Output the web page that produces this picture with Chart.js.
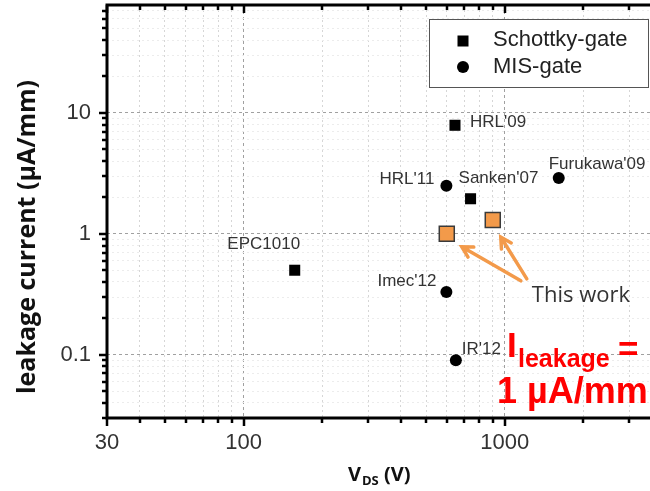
<!DOCTYPE html>
<html>
<head>
<meta charset="utf-8">
<script src="https://cdn.jsdelivr.net/npm/chart.js@4/dist/chart.umd.min.js"></script>
<style>
 html, body { margin: 0; padding: 0; background: #fff; }
 #wrap { width: 650px; height: 491px; }
</style>
</head>
<body>
<div id="wrap"><canvas id="myChart" width="650" height="491"></canvas></div>
<script>
'use strict';

// schottky-gate devices
var schottkyNames = ['EPC1010', "HRL'09", "Sanken'07"];
var schottkyVds = [157, 645, 740];
var schottkyLeak = [0.5, 7.9, 1.95];

// MIS-gate devices
var misNames = ["HRL'11", "Furukawa'09", "Imec'12", "IR'12"];
var misVds = [598, 1610, 598, 650];
var misLeak = [2.5, 2.9, 0.33, 0.09];

// this work
var thisWorkVds = [600, 900];
var thisWorkLeak = [1.0, 1.3];

var xTicks = [30, 40, 50, 60, 70, 80, 90, 100, 200, 300, 400, 500, 600, 700, 800, 900, 1000, 2000, 3000];
var xMajor = [30, 100, 1000];
var xTickLabels = [30, 100, 1000];
var yTicks = [0.03, 0.04, 0.05, 0.06, 0.07, 0.08, 0.09, 0.1, 0.2, 0.3, 0.4, 0.5, 0.6, 0.7, 0.8, 0.9,
              1, 2, 3, 4, 5, 6, 7, 8, 9, 10, 20, 30, 40, 50, 60, 70];
var yMajor = [0.1, 1, 10];
var yTickLabels = [0.1, 1, 10];

var NOTE_ORANGE = '#F39A4A';
var TICK_FONT = '"Liberation Sans", Arial, sans-serif';
var TITLE_FONT = '"Open Sans", sans-serif';

// where each device name sits relative to its marker: dx, dy, align
var labelPlace = {
 'EPC1010': [-31, -26, 'center'],
 "HRL'09": [15, -3, 'left'],
 "Sanken'07": [-12, -20, 'left'],
 "HRL'11": [-12, -6, 'right'],
 "Furukawa'09": [-10, -14, 'left'],
 "Imec'12": [-10, -11, 'right'],
 "IR'12": [6, -11, 'left']
};

// "This work" note anchor, in data units
var noteVds = 1270;
var noteLeak = 0.307;

function toPoints(xs, ys) {
 return xs.map(function (x, i) { return { x: x, y: ys[i] }; });
}

function isMajorTick(list, ctx) {
 return ctx.tick && list.indexOf(ctx.tick.value) !== -1;
}

function noPadding(s) {
 s.paddingTop = 0;
 s.paddingBottom = 0;
 s.paddingLeft = 0;
 s.paddingRight = 0;
}

function arrow(ctx, x0, y0, x1, y1) {
 var a = Math.atan2(y1 - y0, x1 - x0);
 var h = 12;
 ctx.beginPath();
 ctx.moveTo(x0, y0);
 ctx.lineTo(x1, y1);
 ctx.moveTo(x1 - h * Math.cos(a - 0.5), y1 - h * Math.sin(a - 0.5));
 ctx.lineTo(x1, y1);
 ctx.lineTo(x1 - h * Math.cos(a + 0.5), y1 - h * Math.sin(a + 0.5));
 ctx.stroke();
}

var overlay = {
 id: 'overlay',
 afterDatasetsDraw: function (chart) {
  var ctx = chart.ctx;
  var xs = chart.scales.x, ys = chart.scales.y;
  ctx.save();

  // device names next to markers
  ctx.font = '17px ' + TICK_FONT;
  ctx.fillStyle = '#333';
  ctx.textBaseline = 'middle';
  [[0, schottkyNames], [1, misNames]].forEach(function (pair) {
   var meta = chart.getDatasetMeta(pair[0]);
   pair[1].forEach(function (name, i) {
    var p = meta.data[i];
    var pl = labelPlace[name];
    ctx.textAlign = pl[2];
    ctx.fillText(name, p.x + pl[0], p.y + pl[1]);
   });
  });

  // "This work" with arrows
  var tx = xs.getPixelForValue(noteVds);
  var ty = ys.getPixelForValue(noteLeak);
  ctx.textAlign = 'left';
  ctx.font = '22px ' + TITLE_FONT;
  ctx.fillStyle = '#333';
  ctx.fillText('This work', tx, ty);
  var tw = chart.getDatasetMeta(2).data;
  ctx.strokeStyle = NOTE_ORANGE;
  ctx.lineWidth = 3.5;
  ctx.lineCap = 'round';
  arrow(ctx, tx - 11, ty - 15, tw[0].x + 15, tw[0].y + 13);
  arrow(ctx, tx - 5, ty - 17, tw[1].x + 8, tw[1].y + 17);

  // red slide note
  ctx.fillStyle = '#FF0000';
  ctx.textBaseline = 'alphabetic';
  ctx.font = 'bold 35px ' + TICK_FONT;
  ctx.fillText('I', 507, 357);
  ctx.fillText('=', 618, 361);
  ctx.font = 'bold 36px ' + TICK_FONT;
  ctx.fillText('1 \u00B5A/mm', 497, 403);
  ctx.font = 'bold 25px ' + TICK_FONT;
  ctx.fillText('leakage', 518, 367);

  ctx.restore();
 },
 afterDraw: function (chart) {
  var ctx = chart.ctx;
  var a = chart.chartArea;
  var xs = chart.scales.x, ys = chart.scales.y;
  ctx.save();
  ctx.strokeStyle = '#000';

  // ticks
  ctx.lineWidth = 2.5;
  ctx.beginPath();
  xTicks.forEach(function (v) {
   var px = Math.round(xs.getPixelForValue(v));
   var len = xMajor.indexOf(v) !== -1 ? 8 : 5;
   ctx.moveTo(px, a.bottom);
   ctx.lineTo(px, a.bottom + len);
   ctx.moveTo(px, a.top);
   ctx.lineTo(px, a.top + len);
  });
  yTicks.forEach(function (v) {
   var py = Math.round(ys.getPixelForValue(v));
   var len = yMajor.indexOf(v) !== -1 ? 8 : 5;
   ctx.moveTo(a.left, py);
   ctx.lineTo(a.left - len, py);
  });
  ctx.stroke();

  // frame
  ctx.lineWidth = 3;
  ctx.beginPath();
  ctx.moveTo(a.right, a.top);
  ctx.lineTo(a.left, a.top);
  ctx.lineTo(a.left, a.bottom);
  ctx.lineTo(a.right, a.bottom);
  ctx.stroke();

  // legend
  ctx.fillStyle = '#fff';
  ctx.fillRect(429, 19, 219, 68);
  ctx.strokeStyle = '#555';
  ctx.lineWidth = 1;
  ctx.strokeRect(429.5, 19.5, 219, 68);
  ctx.fillStyle = '#000';
  ctx.fillRect(457.5, 35.5, 11, 11);
  ctx.beginPath();
  ctx.arc(463, 67, 6, 0, Math.PI * 2);
  ctx.fill();
  ctx.font = '22px ' + TICK_FONT;
  ctx.fillStyle = '#222';
  ctx.textAlign = 'left';
  ctx.textBaseline = 'middle';
  ctx.fillText(chart.data.datasets[0].label, 493, 40);
  ctx.fillText(chart.data.datasets[1].label, 493, 67);

  // axis titles
  ctx.fillStyle = '#111';
  ctx.textBaseline = 'alphabetic';
  ctx.font = 'bold 20px ' + TITLE_FONT;
  ctx.fillText('V', 348, 481);
  var vw = ctx.measureText('V').width;
  ctx.font = 'bold 13px ' + TITLE_FONT;
  ctx.fillText('DS', 348 + vw + 1, 485);
  var dw = ctx.measureText('DS').width;
  ctx.font = 'bold 20px ' + TITLE_FONT;
  ctx.fillText(' (V)', 348 + vw + dw + 1, 481);

  ctx.translate(28, 237);
  ctx.rotate(-Math.PI / 2);
  ctx.textAlign = 'center';
  ctx.textBaseline = 'middle';
  ctx.font = 'bold 25px ' + TITLE_FONT;
  ctx.fillText('leakage current (\u00B5A/mm)', 0, 0);

  ctx.restore();
 }
};

var myChart = new Chart(document.getElementById('myChart'), {
 type: 'scatter',
 data: {
  datasets: [{
   label: 'Schottky-gate',
   data: toPoints(schottkyVds, schottkyLeak),
   pointStyle: 'rect',
   pointRadius: 7.8,
   backgroundColor: '#000',
   borderWidth: 0
  }, {
   label: 'MIS-gate',
   data: toPoints(misVds, misLeak),
   pointStyle: 'circle',
   pointRadius: 6,
   backgroundColor: '#000',
   borderWidth: 0
  }, {
   label: 'This work',
   data: toPoints(thisWorkVds, thisWorkLeak),
   pointStyle: 'rect',
   pointRadius: 10.6,
   backgroundColor: NOTE_ORANGE,
   borderColor: '#3a3a3a',
   borderWidth: 1.5
  }]
 },
 options: {
  responsive: false,
  animation: false,
  devicePixelRatio: 1,
  layout: { autoPadding: false, padding: { top: 5, left: 0, right: 0, bottom: 0 } },
  plugins: { legend: { display: false }, tooltip: { enabled: false } },
  scales: {
   x: {
    type: 'logarithmic',
    min: 30,
    max: 3600,
    afterBuildTicks: function (s) { s.ticks = xTicks.map(function (v) { return { value: v }; }); },
    afterFit: function (s) { s.height = 73; noPadding(s); },
    grid: {
     drawTicks: false,
     color: function (c) { return isMajorTick(xMajor, c) ? '#a0a0a0' : '#d6d6d6'; },
     lineWidth: 1
    },
    border: {
     display: false,
     dash: function (c) { return isMajorTick(xMajor, c) ? [3, 3] : [2, 3]; }
    },
    ticks: {
     autoSkip: false,
     maxRotation: 0,
     padding: 12,
     color: '#333',
     font: { family: TICK_FONT, size: 22 },
     callback: function (v) { return xTickLabels.indexOf(v) !== -1 ? String(v) : ''; }
    }
   },
   y: {
    type: 'logarithmic',
    min: 0.03,
    max: 78,
    afterBuildTicks: function (s) { s.ticks = yTicks.map(function (v) { return { value: v }; }); },
    afterFit: function (s) { s.width = 107; noPadding(s); },
    grid: {
     drawTicks: false,
     color: function (c) { return isMajorTick(yMajor, c) ? '#a0a0a0' : '#ececec'; },
     lineWidth: 1
    },
    border: {
     display: false,
     dash: function (c) { return isMajorTick(yMajor, c) ? [3, 3] : [2, 3]; }
    },
    ticks: {
     autoSkip: false,
     padding: 16,
     color: '#333',
     font: { family: TICK_FONT, size: 22 },
     callback: function (v) { return yTickLabels.indexOf(v) !== -1 ? String(v) : ''; }
    }
   }
  }
 },
 plugins: [overlay]
});
</script>
</body>
</html>
